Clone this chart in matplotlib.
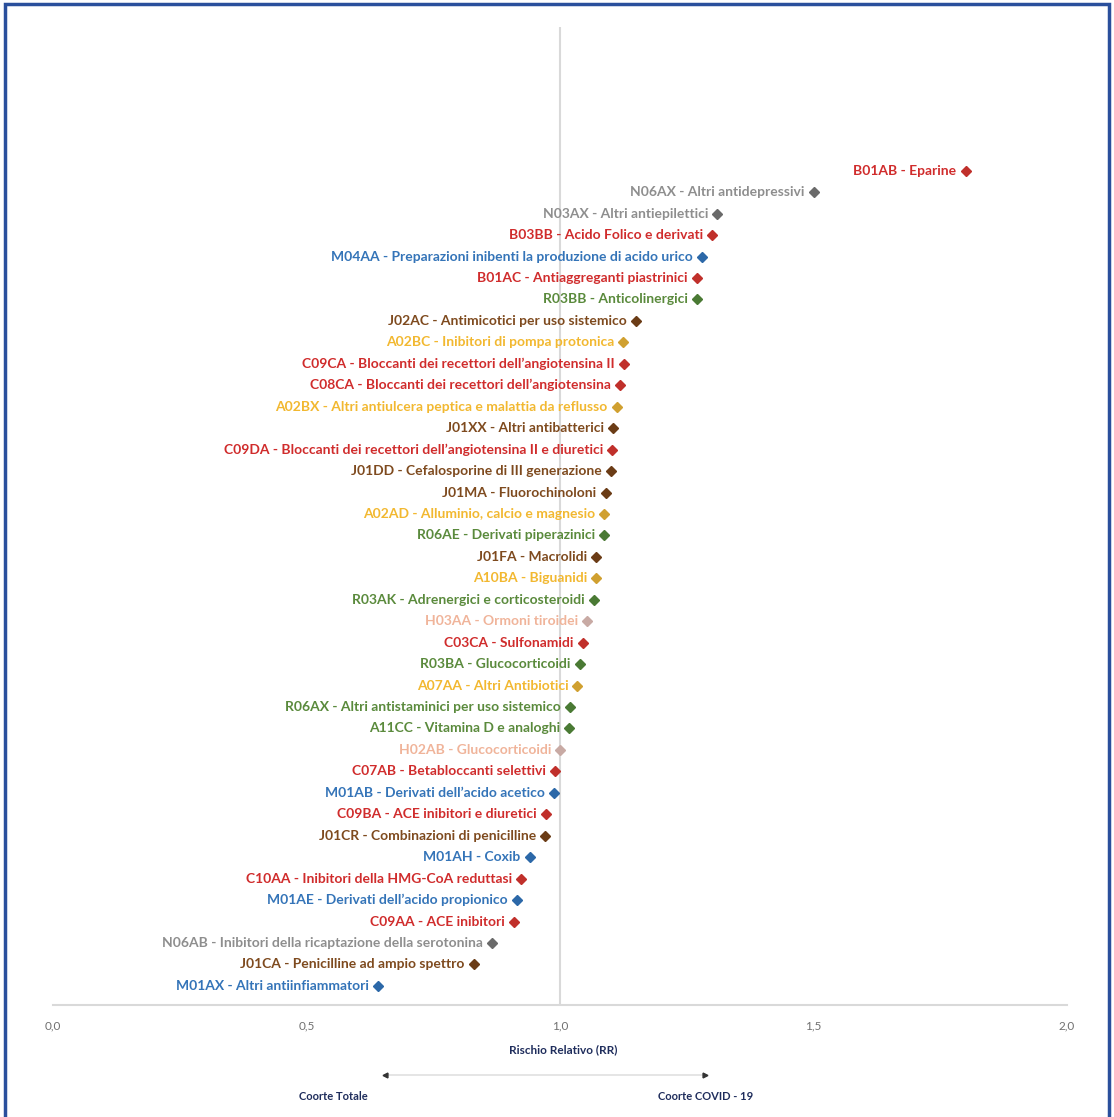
import matplotlib
matplotlib.use("Agg")
import matplotlib.pyplot as plt
from matplotlib.patches import Rectangle
from matplotlib.lines import Line2D

# ── data (top to bottom) ─────────────────────────────────────────────────────
codes = ["B01AB", "N06AX", "N03AX", "B03BB", "M04AA", "B01AC", "R03BB", "J02AC",
         "A02BC", "C09CA", "C08CA", "A02BX", "J01XX", "C09DA", "J01DD", "J01MA",
         "A02AD", "R06AE", "J01FA", "A10BA", "R03AK", "H03AA", "C03CA", "R03BA",
         "A07AA", "R06AX", "A11CC", "H02AB", "C07AB", "M01AB", "C09BA", "J01CR",
         "M01AH", "C10AA", "M01AE", "C09AA", "N06AB", "J01CA", "M01AX"]
names = ["Eparine", "Altri antidepressivi", "Altri antiepilettici", "Acido Folico e derivati",
         "Preparazioni inibenti la produzione di acido urico", "Antiaggreganti piastrinici",
         "Anticolinergici", "Antimicotici per uso sistemico", "Inibitori di pompa protonica",
         "Bloccanti dei recettori dell\u2019angiotensina II",
         "Bloccanti dei recettori dell\u2019angiotensina",
         "Altri antiulcera peptica e malattia da reflusso", "Altri antibatterici",
         "Bloccanti dei recettori dell\u2019angiotensina II e diuretici",
         "Cefalosporine di III generazione", "Fluorochinoloni", "Alluminio, calcio e magnesio",
         "Derivati piperazinici", "Macrolidi", "Biguanidi", "Adrenergici e corticosteroidi",
         "Ormoni tiroidei", "Sulfonamidi", "Glucocorticoidi", "Altri Antibiotici",
         "Altri antistaminici per uso sistemico", "Vitamina D e analoghi", "Glucocorticoidi",
         "Betabloccanti selettivi", "Derivati dell\u2019acido acetico", "ACE inibitori e diuretici",
         "Combinazioni di penicilline", "Coxib", "Inibitori della HMG-CoA reduttasi",
         "Derivati dell\u2019acido propionico", "ACE inibitori",
         "Inibitori della ricaptazione della serotonina", "Penicilline ad ampio spettro",
         "Altri antiinfiammatori"]
rr = [1.80, 1.50, 1.31, 1.30, 1.28, 1.27, 1.27, 1.15,
      1.124, 1.126, 1.118, 1.112, 1.105, 1.103, 1.10, 1.09,
      1.087, 1.087, 1.071, 1.071, 1.067, 1.053, 1.045, 1.039,
      1.034, 1.02, 1.018, 1.00, 0.99, 0.988, 0.972, 0.97,
      0.94, 0.923, 0.915, 0.909, 0.866, 0.83, 0.641]
groups = ["red", "gray", "gray", "red", "blue", "red", "green", "brown",
          "yellow", "red", "red", "yellow", "brown", "red", "brown", "brown",
          "yellow", "green", "brown", "yellow", "green", "salmon", "red", "green",
          "yellow", "green", "green", "salmon", "red", "blue", "red", "brown",
          "blue", "red", "blue", "red", "gray", "brown", "blue"]
x_ticks = [0.0, 0.5, 1.0, 1.5, 2.0]

# (text colour, marker colour)
COLORS = {
    "red":    ("#d02c2c", "#c0302b"),
    "gray":   ("#8e8e8e", "#6a6a6a"),
    "blue":   ("#3474b8", "#2c68a8"),
    "green":  ("#5a8a3c", "#4a7a34"),
    "brown":  ("#7e4a1e", "#6b3c16"),
    "yellow": ("#f2b830", "#d0a030"),
    "salmon": ("#f0b49a", "#c8aaa4"),
}
NAVY = "#1f2d5c"

plt.rcParams["font.family"] = ["Lato", "DejaVu Sans"]

W, H = 1114, 1117
fig = plt.figure(figsize=(W / 100, H / 100), dpi=100)
ax = fig.add_axes([53 / W, (H - 1005) / H, (1067 - 53) / W, (1005 - 27) / H])

n = len(codes)
ys = [n - 1 - i for i in range(n)]

ax.axvline(1.0, color="#d9d9d9", lw=1.5, zorder=1)
for v, y, g, c, nm in zip(rr, ys, groups, codes, names):
    tc, mc = COLORS[g]
    ax.plot(v, y, marker="D", ms=5.5, color=mc, zorder=3, linestyle="none")
    ax.annotate(f"{c} - {nm}", (v, y), xytext=(-6.5, 0), textcoords="offset points",
                ha="right", va="center", fontsize=10, fontweight="bold", color=tc)

ax.set_xlim(0, 2.0)
ax.set_ylim(-0.89, n - 1 + 6.7)
for s in ["top", "right", "left"]:
    ax.spines[s].set_visible(False)
ax.spines["bottom"].set_color("#d9d9d9")
ax.spines["bottom"].set_linewidth(1.5)
ax.set_yticks([])
ax.set_xticks(x_ticks)
ax.set_xticklabels([f"{t:.1f}".replace(".", ",") for t in x_ticks])
ax.tick_params(axis="x", length=0, pad=11, labelsize=8.5, labelcolor="#707070")

# axis title and direction arrow
fig.text(563 / W, 1 - 1050 / H, "Rischio Relativo (RR)", ha="center", va="center",
         fontsize=8.5, fontweight="bold", color=NAVY)
ay = 1 - 1075 / H
fig.add_artist(Line2D([385 / W, 705 / W], [ay, ay], transform=fig.transFigure,
                      color="#e0e0e0", lw=1.2))
fig.add_artist(Line2D([385 / W], [ay], transform=fig.transFigure, marker="<",
                      ms=3.5, color="#333333", linestyle="none"))
fig.add_artist(Line2D([705 / W], [ay], transform=fig.transFigure, marker=">",
                      ms=3.5, color="#333333", linestyle="none"))
fig.text(333 / W, 1 - 1096 / H, "Coorte Totale", ha="center", va="center",
         fontsize=8, fontweight="bold", color=NAVY)
fig.text(706 / W, 1 - 1096 / H, "Coorte COVID - 19", ha="center", va="center",
         fontsize=8, fontweight="bold", color=NAVY)

# blue frame
fig.add_artist(Rectangle((5 / W, -0.01), (1109 - 5) / W, 1 - 3.5 / H + 0.01,
                         transform=fig.transFigure, fill=False,
                         edgecolor="#2a4f9c", lw=2.5))

fig.savefig("out.png", dpi=100)
